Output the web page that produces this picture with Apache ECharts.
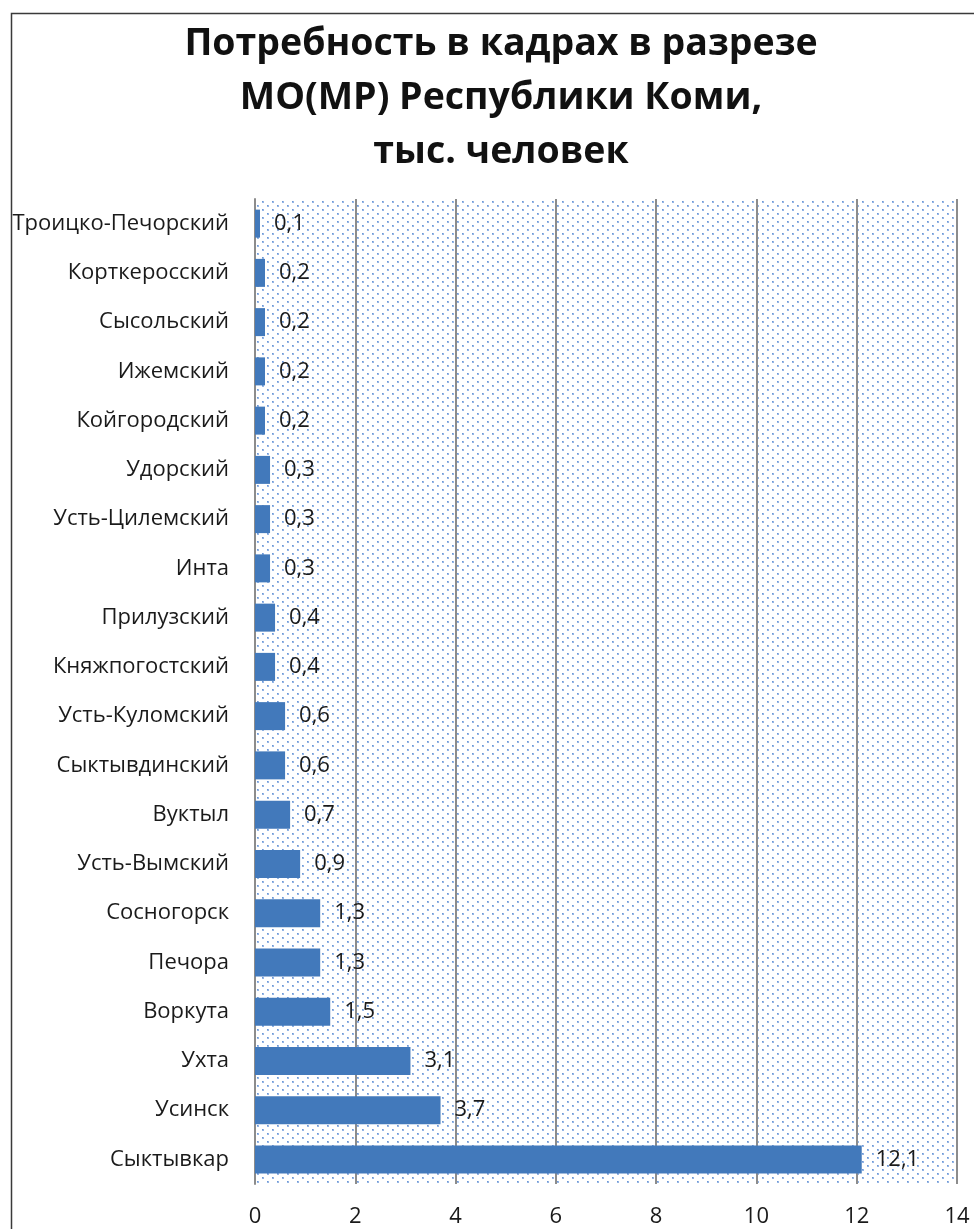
<!DOCTYPE html>
<html>
<head>
<meta charset="utf-8">
<script src="https://cdn.jsdelivr.net/npm/echarts@6/dist/echarts.min.js"></script>
<style>
html,body{margin:0;padding:0;background:#fff;}
#chart{width:974px;height:1229px;}
</style>
</head>
<body>
<div id="chart"></div>
<script>
var titleText = 'Потребность в кадрах в разрезе\nМО(МР) Республики Коми,\nтыс. человек';
var categories = ['Сыктывкар','Усинск','Ухта','Воркута','Печора','Сосногорск','Усть-Вымский','Вуктыл','Сыктывдинский','Усть-Куломский','Княжпогостский','Прилузский','Инта','Усть-Цилемский','Удорский','Койгородский','Ижемский','Сысольский','Корткеросский','Троицко-Печорский'];
var values = [12.1,3.7,3.1,1.5,1.3,1.3,0.9,0.7,0.6,0.6,0.4,0.4,0.3,0.3,0.3,0.2,0.2,0.2,0.2,0.1];
var xTicks = [0,2,4,6,8,10,12,14];

// dotted background pattern
var pc = document.createElement('canvas');
pc.width = 10; pc.height = 8;
var pctx = pc.getContext('2d');
pctx.fillStyle = '#ffffff';
pctx.fillRect(0,0,10,8);
pctx.fillStyle = '#95b5e4';
pctx.fillRect(2,1,2,2);
pctx.fillRect(7,5,2,2);
pctx.fillStyle = '#6c97d6';
pctx.fillRect(2,1,1,1);
pctx.fillRect(7,5,1,1);

var chart = echarts.init(document.getElementById('chart'), null, {renderer:'canvas'});
chart.setOption({
  animation:false,
  backgroundColor:'#ffffff',
  graphic:[
    {type:'rect',left:9,top:11,shape:{width:1000,height:1300},style:{fill:'none',stroke:'#3a3a3a',lineWidth:1.5},silent:true,z:-1},
    {type:'text',x:501,y:17,style:{text:titleText,align:'center',verticalAlign:'top',lineHeight:54,
      fontFamily:'Open Sans',fontWeight:'bold',fontSize:37.5,fill:'#111111'},silent:true}
  ],
  grid:{left:255,right:17,top:199,bottom:45,show:true,backgroundColor:{image:pc,repeat:'repeat'},borderWidth:0},
  xAxis:{
    type:'value',min:0,max:14,interval:2,
    axisLine:{show:false},axisTick:{show:false},
    splitLine:{show:true,lineStyle:{color:'#8c8c8c',width:2}},
    axisLabel:{fontFamily:'Open Sans',fontSize:22,color:'#1a1a1a',margin:22,
      formatter:function(v){return xTicks.indexOf(v)>=0?String(v):'';}}
  },
  yAxis:{
    type:'category',data:categories,
    axisLine:{show:true,lineStyle:{color:'#8c8c8c',width:2}},
    axisTick:{show:false},
    axisLabel:{fontFamily:'Open Sans',fontSize:22,color:'#1a1a1a',margin:26}
  },
  series:[{
    type:'bar',data:values,barWidth:28,
    itemStyle:{color:'#4279bb'},
    label:{show:true,position:'right',distance:14,fontFamily:'Open Sans',fontSize:22,color:'#1a1a1a',
      formatter:function(p){return String(p.value).replace('.',',');}}
  }]
});
</script>
</body>
</html>
